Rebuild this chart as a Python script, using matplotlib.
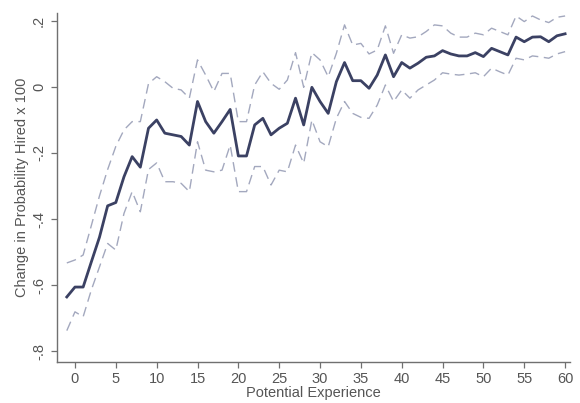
import matplotlib
matplotlib.use("Agg")
import matplotlib.pyplot as plt
import numpy as np

plt.rcParams['font.family'] = ['Liberation Sans', 'DejaVu Sans']

experience = list(range(-1, 61))

estimate = [-0.636, -0.606, -0.606, -0.53, -0.455, -0.36, -0.35, -0.272, -0.211, -0.243,
            -0.125, -0.10, -0.14, -0.145, -0.15, -0.176, -0.044, -0.105, -0.14, -0.105,
            -0.068, -0.209, -0.209, -0.115, -0.095, -0.145, -0.125, -0.11, -0.034, -0.115,
            -0.001, -0.044, -0.08, 0.016, 0.074, 0.019, 0.019, -0.004, 0.036, 0.097,
            0.031, 0.074, 0.057, 0.072, 0.09, 0.094, 0.11, 0.10, 0.094, 0.094,
            0.104, 0.092, 0.117, 0.107, 0.097, 0.151, 0.137, 0.151, 0.152, 0.137,
            0.155, 0.161]

upper_ci = [-0.533, -0.524, -0.509, -0.42, -0.33, -0.25, -0.18, -0.13, -0.105, -0.105,
            0.01, 0.031, 0.016, -0.004, -0.009, -0.034, 0.082, 0.036, -0.014, 0.041,
            0.041, -0.105, -0.105, 0.006, 0.046, 0.011, -0.007, 0.021, 0.104, -0.001,
            0.104, 0.082, 0.031, 0.102, 0.188, 0.127, 0.132, 0.10, 0.112, 0.185,
            0.102, 0.158, 0.148, 0.152, 0.168, 0.188, 0.185, 0.163, 0.151, 0.151,
            0.163, 0.158, 0.178, 0.168, 0.158, 0.215, 0.198, 0.215, 0.203, 0.195,
            0.211, 0.215]

lower_ci = [-0.738, -0.681, -0.696, -0.615, -0.545, -0.474, -0.494, -0.383, -0.317, -0.378,
            -0.25, -0.23, -0.287, -0.287, -0.292, -0.317, -0.166, -0.252, -0.257, -0.252,
            -0.176, -0.317, -0.317, -0.241, -0.241, -0.297, -0.252, -0.257, -0.176, -0.231,
            -0.10, -0.166, -0.181, -0.095, -0.044, -0.08, -0.092, -0.095, -0.055, 0.006,
            -0.044, -0.009, -0.034, -0.009, 0.006, 0.021, 0.043, 0.039, 0.036, 0.039,
            0.043, 0.031, 0.057, 0.046, 0.036, 0.087, 0.082, 0.094, 0.091, 0.087,
            0.10, 0.107]

x_ticks = list(range(0, 61, 5))
y_ticks = [-0.8, -0.6, -0.4, -0.2, 0.0, 0.2]
y_tick_labels = ["-.8", "-.6", "-.4", "-.2", "0", ".2"]

fig = plt.figure(figsize=(5.8, 4.03), dpi=100)
ax = fig.add_axes([57/580, (403-362)/403, (570-57)/580, (362-13)/403])

ci_color = "#a3a8be"
ax.plot(experience, upper_ci, color=ci_color, lw=1.0, dashes=(7, 4))
ax.plot(experience, lower_ci, color=ci_color, lw=1.0, dashes=(7, 4))
ax.plot(experience, estimate, color="#3b4163", lw=2.0)

ax.set_xlim(-2.2, 60.6)
ax.set_ylim(-0.833, 0.224)

ax.set_xticks(x_ticks)
ax.set_yticks(y_ticks)
ax.set_yticklabels(y_tick_labels, rotation=90, va="center")

for s in ["top", "right"]:
    ax.spines[s].set_visible(False)
for s in ["left", "bottom"]:
    ax.spines[s].set_color("#707070")
    ax.spines[s].set_linewidth(1.0)

ax.tick_params(axis="both", colors="#707070", labelcolor="#555555", labelsize=10.5,
               length=4, width=0.9, direction="out")
ax.tick_params(axis="y", pad=4)

ax.set_xlabel("Potential Experience", fontsize=10.5, color="#555555", labelpad=0)
ax.set_ylabel("Change in Probability Hired x 100", fontsize=10.5, color="#555555", labelpad=2)

fig.savefig("out.png", dpi=100, facecolor="white")
